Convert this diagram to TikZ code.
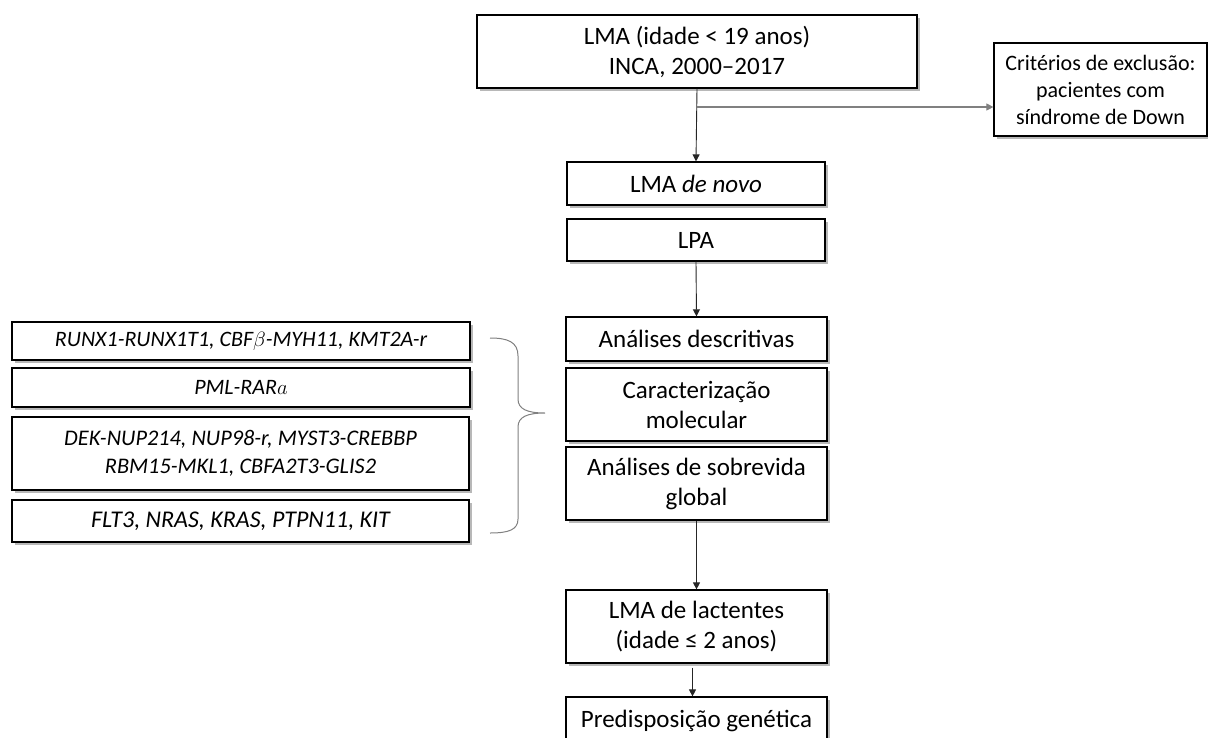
\documentclass[tikz,border=0pt]{standalone}
\usepackage{fontspec}
\setmainfont{Carlito}
\usetikzlibrary{arrows.meta,shadows}
\tikzset{
  box/.style={draw=black, line width=1.2pt, fill=white, inner sep=0pt, align=center,
    drop shadow={shadow xshift=2.5pt, shadow yshift=-2.5pt, opacity=0.28, fill=black}},
  mainbox/.style={box, font=\fontsize{25}{30}\selectfont},
  exclbox/.style={box, font=\fontsize{22}{27}\selectfont},
  genebox/.style={box, font=\fontsize{22}{28}\selectfont\itshape},
  conn/.style={draw=black!85, line width=0.9pt, -{Triangle[width=7pt,length=7pt]}},
  branch/.style={draw=black!50, line width=1.1pt},
  bracel/.style={draw=black!50, line width=1pt}
}
\begin{document}
\begin{tikzpicture}[x=1pt,y=-1pt]
\useasboundingbox (0,0) rectangle (1208,737);
% right column
\node[mainbox, minimum width=440, minimum height=73] (top) at (697,51.5) {LMA (idade < 19 anos)\\INCA, 2000–2017};
\node[exclbox, minimum width=213, minimum height=93] (excl) at (1100.5,89.5) {Critérios de exclusão:\\pacientes com\\síndrome de Down};
\node[mainbox, minimum width=258, minimum height=43] (novo) at (696,183.5) {LMA \textit{de novo}};
\node[mainbox, minimum width=258, minimum height=42] (lpa) at (696,240) {LPA};
\node[mainbox, minimum width=261, minimum height=44] (desc) at (696.5,339) {Análises descritivas};
\node[mainbox, minimum width=261, minimum height=73] (carac) at (696.5,404.5) {Caracterização\\molecular};
\node[mainbox, minimum width=261, minimum height=73] (sobre) at (696.5,483.5) {Análises de sobrevida\\global};
\node[mainbox, minimum width=261, minimum height=73] (lact) at (696.5,626.5) {LMA de lactentes\\(idade ≤ 2 anos)};
\node[mainbox, minimum width=261, minimum height=48] (pred) at (696.5,721) {Predisposição genética};
% left column
\node[genebox, minimum width=458, minimum height=38] (g1) at (241,341) {RUNX1-RUNX1T1, CBF$\beta$-MYH11, KMT2A-r};
\node[genebox, minimum width=458, minimum height=39] (g2) at (241,387.5) {PML-RAR$a$};
\node[genebox, minimum width=457, minimum height=73, font=\fontsize{22.3}{28}\selectfont\itshape] (g3) at (240.5,453.5) {DEK-NUP214, NUP98-r, MYST3-CREBBP\\RBM15-MKL1, CBFA2T3-GLIS2};
\node[genebox, minimum width=457, minimum height=42, font=\fontsize{24}{28}\selectfont\itshape] (g4) at (240.5,521) {FLT3, NRAS, KRAS, PTPN11, KIT};
% connectors
\coordinate (split) at (top.south |- 0,107);
\coordinate (hit) at (split -| excl.west);
\draw[conn] (top.south) -- (novo.north);
\draw[branch] (split) -- ([xshift=-6pt]hit);
\draw[conn, draw=black!50] ([xshift=-7pt]hit) -- (hit);
\draw[conn] (lpa.south) -- (desc.north);
\draw[conn] (sobre.south) -- (lact.north);
\draw[conn] ([xshift=-4pt,yshift=-4pt]lact.south) -- ([xshift=-4pt]pred.north);
% brace
\coordinate (bt) at (490,338);
\coordinate (bm) at (545,413);
\coordinate (bb) at (490,533);
\draw[bracel] (bt) .. controls (508,338) and (518,342) .. (518,356) -- (518,399)
  .. controls (518,409) and (527,413) .. (bm)
  .. controls (527,413) and (518,417) .. (518,427) -- (518,519)
  .. controls (518,530) and (508,533) .. (bb);
\end{tikzpicture}
\end{document}
